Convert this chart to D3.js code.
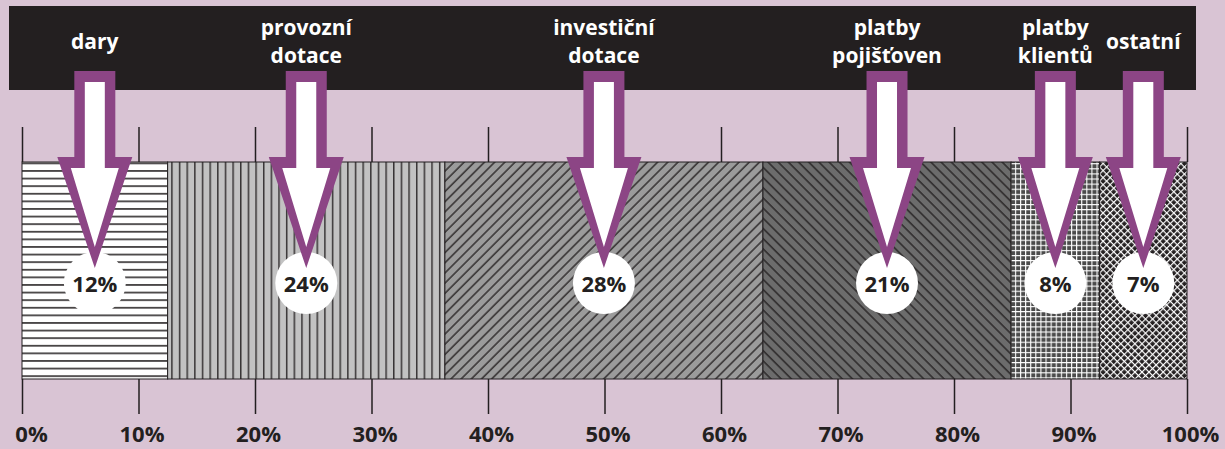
<!DOCTYPE html>
<html>
<head>
<meta charset="utf-8">
<script src="https://cdn.jsdelivr.net/npm/d3@7"></script>
<style>
  html, body { margin: 0; padding: 0; background: #d9c4d4; }
  svg { display: block; font-family: 'Open Sans', Lato, sans-serif; font-weight: 700; }
</style>
</head>
<body>
<svg id="chart" width="1225" height="449"></svg>
<script>
// data
const categories = ['dary', 'provozní dotace', 'investiční dotace', 'platby pojišťoven', 'platby klientů', 'ostatní']
const labelLines = [['dary'], ['provozní', 'dotace'], ['investiční', 'dotace'], ['platby', 'pojišťoven'], ['platby', 'klientů'], ['ostatní']]
const shares = [12.5, 23.8, 27.3, 21.3, 7.6, 7.5]
const shareLabels = ['12%', '24%', '28%', '21%', '8%', '7%']
const patternIds = ['p-horiz', 'p-vert', 'p-diag-up', 'p-diag-down', 'p-grid', 'p-cross']
const tickValues = [0, 10, 20, 30, 40, 50, 60, 70, 80, 90, 100]
const tickLabels = ['0%', '10%', '20%', '30%', '40%', '50%', '60%', '70%', '80%', '90%', '100%']

const ink = '#231f20'
const purple = '#8c4585'

const svg = d3.select('#chart')
const x = d3.scaleLinear().domain([0, 100]).range([22, 1187])

const barTop = 162
const barBottom = 379
const tickLen = 35

// segments with cumulative start/end
const ends = d3.cumsum(shares)
const segs = shares.map((v, i) => ({
  name: categories[i],
  lines: labelLines[i],
  label: shareLabels[i],
  pattern: patternIds[i],
  x0: i ? ends[i - 1] : 0,
  x1: ends[i]
}))
segs.forEach(d => { d.mid = (d.x0 + d.x1) / 2 })

// patterns
const defs = svg.append('defs')
function pat (id, size, bg, transform) {
  const p = defs.append('pattern')
    .attr('id', id)
    .attr('patternUnits', 'userSpaceOnUse')
    .attr('width', size)
    .attr('height', size)
  if (transform) p.attr('patternTransform', transform)
  p.append('rect').attr('width', size).attr('height', size).attr('fill', bg)
  return p
}
pat('p-horiz', 7.6, '#ffffff')
  .append('rect').attr('x', 0).attr('y', 3).attr('width', 7.6).attr('height', 1.5).attr('fill', ink)
pat('p-vert', 7.65, '#c2c2c2')
  .append('rect').attr('x', 3).attr('y', 0).attr('width', 1.3).attr('height', 7.65).attr('fill', ink)
pat('p-diag-up', 7.2, '#9b9b9b', 'rotate(45)')
  .append('rect').attr('x', 3).attr('y', 0).attr('width', 1.3).attr('height', 7.2).attr('fill', ink)
pat('p-diag-down', 7.2, '#6c6c6c', 'rotate(-45)')
  .append('rect').attr('x', 3).attr('y', 0).attr('width', 1.3).attr('height', 7.2).attr('fill', ink)
const grid = pat('p-grid', 5.1, '#4b4b4b')
grid.append('rect').attr('x', 0).attr('y', 0).attr('width', 1.1).attr('height', 5.1).attr('fill', '#fff')
grid.append('rect').attr('x', 0).attr('y', 0).attr('width', 5.1).attr('height', 1.1).attr('fill', '#fff')
const cross = pat('p-cross', 5, ink, 'rotate(45)')
cross.append('rect').attr('x', 0).attr('y', 0).attr('width', 1.2).attr('height', 5).attr('fill', '#fff')
cross.append('rect').attr('x', 0).attr('y', 0).attr('width', 5).attr('height', 1.2).attr('fill', '#fff')

// black header band
svg.append('rect')
  .attr('x', 9).attr('y', 6)
  .attr('width', 1187).attr('height', 84)
  .attr('fill', ink)

// ticks above and below the bar
const topAxis = d3.axisTop(x).tickValues(tickValues).tickSize(tickLen).tickFormat('')
svg.append('g')
  .attr('transform', `translate(0, ${barTop})`)
  .call(topAxis)
  .call(g => g.select('.domain').remove())
  .call(g => g.selectAll('line').attr('stroke', ink).attr('stroke-width', 1.5))

const bottomAxis = d3.axisBottom(x).tickValues(tickValues).tickSize(tickLen)
  .tickFormat((d, i) => tickLabels[i])
svg.append('g')
  .attr('transform', `translate(0, ${barBottom})`)
  .call(bottomAxis)
  .call(g => g.select('.domain').remove())
  .call(g => g.selectAll('line').attr('stroke', ink).attr('stroke-width', 1.5))
  .call(g => g.selectAll('text')
    .attr('y', 63).attr('dy', 0).attr('dx', d => d === 0 ? 9 : 3)
    .attr('fill', ink)
    .attr('font-family', "'Open Sans', sans-serif")
    .attr('font-weight', 700)
    .attr('font-size', 22))

// stacked bar segments
svg.append('g')
  .selectAll('rect')
  .data(segs)
  .join('rect')
    .attr('x', d => x(d.x0))
    .attr('y', barTop)
    .attr('width', d => x(d.x1) - x(d.x0))
    .attr('height', barBottom - barTop)
    .attr('fill', d => `url(#${d.pattern})`)
    .attr('stroke', ink)
    .attr('stroke-width', 1)

// white circles with share labels
const circleY = 283
svg.append('g')
  .selectAll('circle')
  .data(segs)
  .join('circle')
    .attr('cx', d => x(d.mid))
    .attr('cy', circleY)
    .attr('r', 31)
    .attr('fill', '#fff')

// block arrows: outer purple, inner white
const outerArrow = c => `M${c - 20.5},71 L${c + 20.5},71 L${c + 20.5},157 L${c + 37.5},157 L${c},268 L${c - 37.5},157 L${c - 20.5},157 Z`
const innerArrow = c => `M${c - 10},82 L${c + 10},82 L${c + 10},168 L${c + 24},168 L${c},247 L${c - 24},168 L${c - 10},168 Z`
const arrows = svg.append('g')
  .selectAll('g')
  .data(segs)
  .join('g')
arrows.append('path').attr('d', d => outerArrow(x(d.mid))).attr('fill', purple)
arrows.append('path').attr('d', d => innerArrow(x(d.mid))).attr('fill', '#fff')

svg.append('g')
  .selectAll('text')
  .data(segs)
  .join('text')
    .attr('x', d => x(d.mid))
    .attr('y', circleY + 9)
    .attr('text-anchor', 'middle')
    .attr('font-size', 22)
    .attr('fill', ink)
    .text(d => d.label)

// category labels in the header band
const labels = svg.append('g')
  .selectAll('text')
  .data(segs)
  .join('text')
    .attr('x', d => x(d.mid))
    .attr('text-anchor', 'middle')
    .attr('font-size', 21)
    .attr('fill', '#fff')
labels.selectAll('tspan')
  .data(d => d.lines.map((t, i) => ({ t, i, n: d.lines.length, c: x(d.mid) })))
  .join('tspan')
    .attr('x', d => d.c)
    .attr('y', d => d.n === 1 ? 49 : 35 + d.i * 28)
    .text(d => d.t)
</script>
</body>
</html>
